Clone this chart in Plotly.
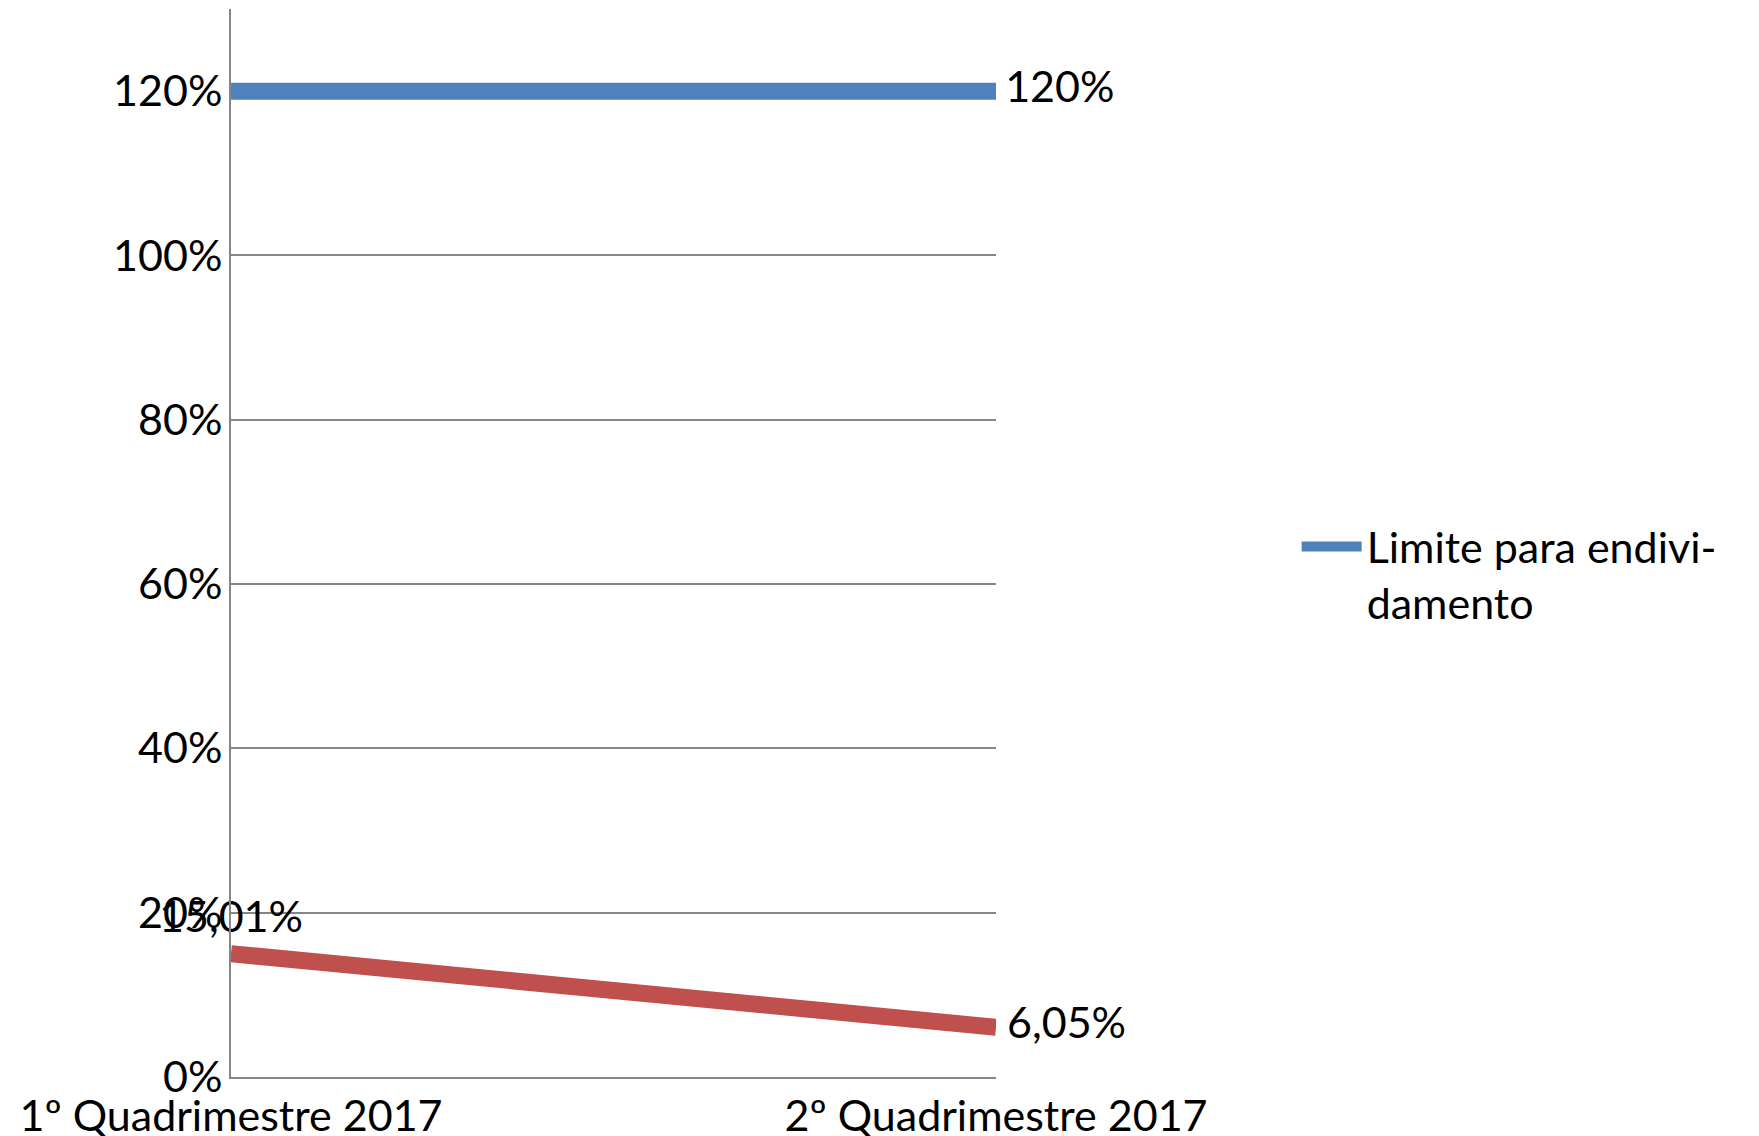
import plotly.graph_objects as go

categories = ["1º Quadrimestre 2017", "2º Quadrimestre 2017"]
limite = [120, 120]
endividamento = [15.01, 6.05]
y_ticks = [0, 20, 40, 60, 80, 100, 120]
y_tick_labels = ["0%", "20%", "40%", "60%", "80%", "100%", "120%"]

FONT = "Lato"
FS = 43
CLEAR = "rgba(0,0,0,0)"

fig = go.Figure()
fig.add_trace(go.Scatter(
    x=categories, y=limite, mode="lines+markers+text",
    name="Limite para endivi-<br>damento",
    line=dict(color="#4F81BD", width=17),
    marker=dict(size=13, color=CLEAR, line=dict(width=0, color=CLEAR)),
    texttemplate=["", "%{y:.0f}%"], textposition="middle right",
    textfont=dict(family=FONT, size=FS, color="#000000"),
    cliponaxis=False, hoverinfo="skip",
))
fig.add_trace(go.Scatter(
    x=categories, y=endividamento, mode="lines+markers+text",
    name="Endividamento", showlegend=False,
    line=dict(color="#C0504D", width=17),
    marker=dict(size=16, color=CLEAR, line=dict(width=0, color=CLEAR)),
    texttemplate="%{y:.2f}%", textposition=["top center", "middle right"],
    textfont=dict(family=FONT, size=FS, color="#000000"),
    cliponaxis=False, hoverinfo="skip",
))

fig.update_layout(
    width=1751, height=1128,
    margin=dict(l=223, r=763, t=1, b=59, autoexpand=False),
    paper_bgcolor="white", plot_bgcolor="white",
    separators=",.",
    font=dict(family=FONT, size=FS, color="#000000"),
    legend=dict(x=1.393, y=0.529, xanchor="left", yanchor="top",
                font=dict(family=FONT, size=FS), valign="top",
                itemwidth=60, bgcolor=CLEAR),
    xaxis=dict(type="category", range=[0, 1], showgrid=False,
               showline=True, linecolor="#868686", linewidth=2,
               ticks="", tickfont=dict(family=FONT, size=FS),
               automargin=False),
    yaxis=dict(range=[0, 130], tickvals=y_ticks, ticktext=y_tick_labels,
               showgrid=True, gridcolor="#868686", gridwidth=2,
               showline=True, linecolor="#868686", linewidth=2,
               zeroline=False, ticks="", ticklabelstandoff=-2,
               tickfont=dict(family=FONT, size=FS), automargin=False),
)

fig.write_html("out.html")
